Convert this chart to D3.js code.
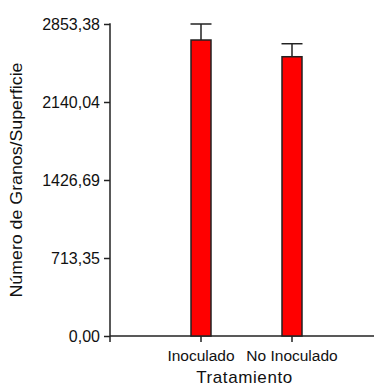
<!DOCTYPE html>
<html>
<head>
<meta charset="utf-8">
<script src="https://cdn.jsdelivr.net/npm/d3@7"></script>
<style>
  html, body { margin: 0; padding: 0; background: #fff; }
  svg { display: block; font-family: "Liberation Sans", Arial, sans-serif; }
</style>
</head>
<body>
<svg id="chart" width="374" height="387"></svg>
<script>
// Grain count per surface by treatment (mean and upper error)
const categories = ["Inoculado", "No Inoculado"];
const means = [2707, 2554];
const upperErrors = [2853.38, 2673];
const tickValues = [0, 713.35, 1426.69, 2140.04, 2853.38];
const tickLabels = ["0,00", "713,35", "1426,69", "2140,04", "2853,38"];

const svg = d3.select("#chart");
const W = 374, H = 387;
const plotLeft = 110, plotBottom = 336, plotTop = 24;
const barW = 20;

const y = d3.scaleLinear().domain([0, 2853.38]).range([plotBottom, plotTop]);
// category slots: the two groups occupy positions 1 and 2 of a 0..3 track
const x = d3.scaleLinear().domain([0, 3]).range([plotLeft, 383]);

const ink = "#222";

// Y axis
const yAxis = d3.axisLeft(y)
  .tickValues(tickValues)
  .tickFormat((d, i) => tickLabels[i])
  .tickSize(6)
  .tickSizeOuter(0)
  .tickPadding(4);
const gy = svg.append("g").attr("transform", `translate(${plotLeft},0)`).call(yAxis);
gy.select(".domain").remove();
gy.selectAll(".tick line").attr("stroke", ink).attr("stroke-width", 1.5);
gy.selectAll(".tick text").attr("fill", "#111").style("font-size", "16px");
svg.append("line")
  .attr("x1", plotLeft).attr("x2", plotLeft)
  .attr("y1", y(2853.38) - 0.75).attr("y2", plotBottom + 6)
  .attr("stroke", ink).attr("stroke-width", 1.5);

// X axis
svg.append("line")
  .attr("x1", plotLeft).attr("x2", W)
  .attr("y1", plotBottom).attr("y2", plotBottom)
  .attr("stroke", ink).attr("stroke-width", 1.5);
categories.forEach((c, i) => {
  const cx = x(i + 1);
  svg.append("line")
    .attr("x1", cx).attr("x2", cx)
    .attr("y1", plotBottom).attr("y2", plotBottom + 6)
    .attr("stroke", ink).attr("stroke-width", 1.5);
  svg.append("text")
    .attr("x", cx).attr("y", 361)
    .attr("text-anchor", "middle")
    .attr("fill", "#111")
    .style("font-size", "15.5px")
    .text(c);
});

// Error bars (drawn under the bars)
categories.forEach((c, i) => {
  const cx = x(i + 1);
  svg.append("line")
    .attr("x1", cx).attr("x2", cx)
    .attr("y1", y(means[i])).attr("y2", y(upperErrors[i]))
    .attr("stroke", ink).attr("stroke-width", 1.5);
  svg.append("line")
    .attr("x1", cx - barW / 2 - 0.5).attr("x2", cx + barW / 2 + 0.5)
    .attr("y1", y(upperErrors[i])).attr("y2", y(upperErrors[i]))
    .attr("stroke", ink).attr("stroke-width", 1.5);
});

// Bars
svg.selectAll("rect.bar")
  .data(means)
  .join("rect")
  .attr("class", "bar")
  .attr("x", (d, i) => x(i + 1) - barW / 2)
  .attr("width", barW)
  .attr("y", d => y(d))
  .attr("height", d => plotBottom - y(d))
  .attr("fill", "#ff0000")
  .attr("stroke", ink)
  .attr("stroke-width", 1.5);

// Axis titles
svg.append("text")
  .attr("x", 244.5).attr("y", 383)
  .attr("text-anchor", "middle")
  .attr("fill", "#111")
  .style("font-size", "17px")
  .style("letter-spacing", "0.6px")
  .text("Tratamiento");

svg.append("text")
  .attr("transform", "translate(22,180) rotate(-90)")
  .attr("text-anchor", "middle")
  .attr("fill", "#111")
  .style("font-size", "16.5px")
  .attr("textLength", 235)
  .attr("lengthAdjust", "spacingAndGlyphs")
  .text("Número de Granos/Superficie");
</script>
</body>
</html>
